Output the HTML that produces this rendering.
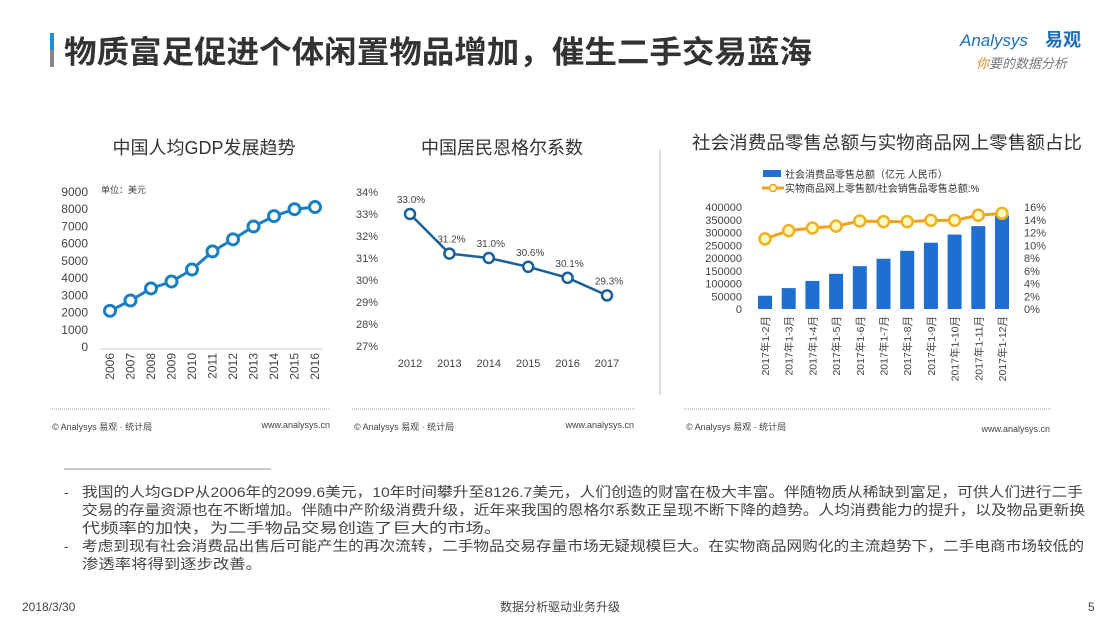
<!DOCTYPE html>
<html><head><meta charset="utf-8">
<style>
body{margin:0;width:1120px;height:630px;background:#fff;overflow:hidden;font-family:"Liberation Sans","Noto Sans CJK SC",sans-serif;}
svg text{font-family:"Liberation Sans","Noto Sans CJK SC",sans-serif;}
</style></head>
<body>
<svg id="s" width="1120" height="630" xmlns="http://www.w3.org/2000/svg">
<rect x="50" y="33" width="4" height="34" fill="#1e8fd6"/>
<rect x="50" y="50" width="4" height="17" fill="#888"/>
<text x="64" y="63" font-size="31" font-weight="bold" fill="#333" textLength="748" lengthAdjust="spacingAndGlyphs">物质富足促进个体闲置物品增加，催生二手交易蓝海</text>
<text x="960" y="46" font-size="17" font-style="italic" fill="#1e6fb8">Analysys</text>
<text x="1045" y="46" font-size="18" font-weight="bold" fill="#1e6fb8">易观</text>
<text x="976" y="68" font-size="13" font-style="italic" fill="#777"><tspan fill="#e08a2a">你</tspan>要的数据分析</text>

<text x="204" y="154" font-size="18" fill="#333" text-anchor="middle">中国人均GDP发展趋势</text>
<text x="502" y="154" font-size="18" fill="#333" text-anchor="middle">中国居民恩格尔系数</text>
<text x="887" y="149" font-size="18" fill="#333" text-anchor="middle" textLength="390" lengthAdjust="spacingAndGlyphs">社会消费品零售总额与实物商品网上零售额占比</text>
<line x1="660" y1="150" x2="660" y2="395" stroke="#bbb"/>

<g id="g1"></g><g id="g2"></g><g id="g3"></g>

<line x1="50" y1="409" x2="330" y2="409" stroke="#aaa" stroke-dasharray="1,1"/>
<line x1="352" y1="409" x2="636" y2="409" stroke="#aaa" stroke-dasharray="1,1"/>
<line x1="684" y1="409" x2="1052" y2="409" stroke="#aaa" stroke-dasharray="1,1"/>
<text x="52" y="430" font-size="9" fill="#444">© Analysys 易观 · 统计局</text>
<text x="330" y="428" font-size="9" fill="#444" text-anchor="end">www.analysys.cn</text>
<text x="354" y="430" font-size="9" fill="#444">© Analysys 易观 · 统计局</text>
<text x="634" y="428" font-size="9" fill="#444" text-anchor="end">www.analysys.cn</text>
<text x="686" y="430" font-size="9" fill="#444">© Analysys 易观 · 统计局</text>
<text x="1050" y="432" font-size="9" fill="#444" text-anchor="end">www.analysys.cn</text>

<line x1="64" y1="469" x2="271" y2="469" stroke="#999"/>
<g font-size="14" fill="#444">
<text x="64" y="497">-</text>
<text x="82" y="497" textLength="1001" lengthAdjust="spacingAndGlyphs">我国的人均GDP从2006年的2099.6美元，10年时间攀升至8126.7美元，人们创造的财富在极大丰富。伴随物质从稀缺到富足，可供人们进行二手</text>
<text x="82" y="515" textLength="1003" lengthAdjust="spacingAndGlyphs">交易的存量资源也在不断增加。伴随中产阶级消费升级，近年来我国的恩格尔系数正呈现不断下降的趋势。人均消费能力的提升，以及物品更新换</text>
<text x="82" y="533" textLength="420" lengthAdjust="spacingAndGlyphs">代频率的加快，为二手物品交易创造了巨大的市场。</text>
<text x="64" y="551">-</text>
<text x="82" y="551" textLength="1002" lengthAdjust="spacingAndGlyphs">考虑到现有社会消费品出售后可能产生的再次流转，二手物品交易存量市场无疑规模巨大。在实物商品网购化的主流趋势下，二手电商市场较低的</text>
<text x="82" y="569" textLength="180" lengthAdjust="spacingAndGlyphs">渗透率将得到逐步改善。</text>
</g>
<text x="22" y="611" font-size="12" fill="#444">2018/3/30</text>
<text x="560" y="611" font-size="12" fill="#444" text-anchor="middle">数据分析驱动业务升级</text>
<text x="1088" y="611" font-size="12" fill="#444">5</text>
</svg>
<script>
const gdpYears=["2006","2007","2008","2009","2010","2011","2012","2013","2014","2015","2016"];
const gdpValues=[2099.6,2700,3400,3800,4500,5550,6250,7000,7600,8000,8126.7];
const gdpTicks=[0,1000,2000,3000,4000,5000,6000,7000,8000,9000];
const engelYears=["2012","2013","2014","2015","2016","2017"];
const engelValues=[33.0,31.2,31.0,30.6,30.1,29.3];
const engelTicks=[27,28,29,30,31,32,33,34];
const retailMonths=["2017年1-2月","2017年1-3月","2017年1-4月","2017年1-5月","2017年1-6月","2017年1-7月","2017年1-8月","2017年1-9月","2017年1-10月","2017年1-11月","2017年1-12月"];
const retailTotals=[52000,82000,110000,138000,168000,197000,228000,260000,292000,325000,366000];
const onlineShare=[11.0,12.3,12.7,13.0,13.8,13.7,13.7,13.9,13.9,14.7,15.0];
const leftTicks=[0,50000,100000,150000,200000,250000,300000,350000,400000];
const rightTicks=[0,2,4,6,8,10,12,14,16];

const NS="http://www.w3.org/2000/svg";
function mk(p,tag,a,txt){const e=document.createElementNS(NS,tag);for(const k in a)e.setAttribute(k,a[k]);if(txt!=null)e.textContent=txt;p.appendChild(e);return e;}

// Chart 1
(function(){
const g=document.getElementById('g1');
const x=i=>110+i*20.5, y=v=>347-v/9000*155;
gdpTicks.forEach(t=>{const e=mk(g,'text',{x:88,y:y(t)+4,'font-size':12,fill:'#444','text-anchor':'end'},t);

});
const ax=mk(g,'line',{x1:100,y1:349,x2:323,y2:349,stroke:'#ccc'});


gdpYears.forEach((yr,i)=>{const e=mk(g,'text',{x:0,y:0,'font-size':12,fill:'#444','text-anchor':'end',transform:`translate(${x(i)+4},353) rotate(-90)`},yr);

});
const u=mk(g,'text',{x:101,y:193,'font-size':9,fill:'#444'},'单位：美元');


const ln=mk(g,'polyline',{points:gdpValues.map((v,i)=>x(i)+','+y(v)).join(' '),fill:'none',stroke:'#1a7fc1','stroke-width':3});


gdpValues.forEach((v,i)=>{const c=mk(g,'circle',{cx:x(i),cy:y(v),r:5.5,fill:'#fff',stroke:'#1a7fc1','stroke-width':3});

});
})();

// Chart 2
(function(){
const g=document.getElementById('g2');
const x=i=>410+i*39.4, y=v=>346-(v-27)*22;
engelTicks.forEach(t=>{const e=mk(g,'text',{x:378,y:y(t)+4,'font-size':11,fill:'#444','text-anchor':'end'},t+'%');

});
engelYears.forEach((yr,i)=>{const e=mk(g,'text',{x:x(i),y:367,'font-size':11,fill:'#444','text-anchor':'middle'},yr);

});
const ln=mk(g,'polyline',{points:engelValues.map((v,i)=>x(i)+','+y(v)).join(' '),fill:'none',stroke:'#1a5f98','stroke-width':2.5});


engelValues.forEach((v,i)=>{const c=mk(g,'circle',{cx:x(i),cy:y(v),r:5,fill:'#fff',stroke:'#1a5f98','stroke-width':2.5});


const l=mk(g,'text',{x:x(i)+(i==0?1:2),y:y(v)-11,'font-size':10,fill:'#444','text-anchor':'middle'},v.toFixed(1)+'%');

});
})();

// Chart 3
(function(){
const g=document.getElementById('g3');
const x=i=>765+i*23.7, y=v=>309-v/400000*102, y2=v=>309-v/16*102;
const lg1=mk(g,'rect',{x:763,y:170,width:18,height:7,fill:'#1f6fd0'});


const lt1=mk(g,'text',{x:785,y:178,'font-size':10,fill:'#333'},'社会消费品零售总额（亿元 人民币）');


const lg2=mk(g,'line',{x1:762,y1:188,x2:784,y2:188,stroke:'#f0a020','stroke-width':3});


mk(g,'circle',{cx:773,cy:188,r:3.5,fill:'#fff8c0',stroke:'#f0a020','stroke-width':1.5});
const lt2=mk(g,'text',{x:785,y:192,'font-size':10,fill:'#333'},'实物商品网上零售额/社会销售品零售总额:%');


leftTicks.forEach(t=>{const e=mk(g,'text',{x:742,y:y(t)+4,'font-size':11,fill:'#444','text-anchor':'end'},t);

});
rightTicks.forEach(t=>{const e=mk(g,'text',{x:1024,y:y2(t)+4,'font-size':11,fill:'#444'},t+'%');

});
retailTotals.forEach((v,i)=>{const r=mk(g,'rect',{x:x(i)-7,y:y(v),width:14,height:309-y(v),fill:'#1f6fd0'});

});
retailMonths.forEach((m,i)=>{const e=mk(g,'text',{x:0,y:0,'font-size':10.5,fill:'#444','text-anchor':'end',transform:`translate(${x(i)+4},316) rotate(-90)`},m);

});
const ln=mk(g,'polyline',{points:onlineShare.map((v,i)=>x(i)+','+y2(v)).join(' '),fill:'none',stroke:'#f0a020','stroke-width':3});


onlineShare.forEach((v,i)=>{const c=mk(g,'circle',{cx:x(i),cy:y2(v),r:5.5,fill:'#fff8c0',stroke:'#f0b020','stroke-width':2.5});

});
})();
</script>
</body></html>
